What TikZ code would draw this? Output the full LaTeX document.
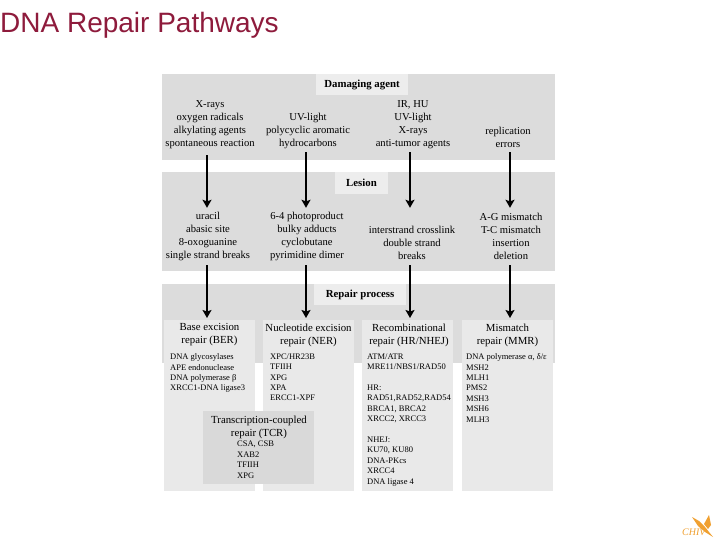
\documentclass[tikz,border=0pt]{standalone}
\usepackage{fontspec}
\setmainfont{Liberation Serif}
\newfontfamily\titlefont{Liberation Sans}
\usetikzlibrary{arrows.meta}
\definecolor{bandgray}{HTML}{DCDCDC}
\definecolor{colgray}{HTML}{E9E9E9}
\definecolor{tcrgray}{HTML}{D9D9D9}
\definecolor{headgray}{HTML}{EDEDED}
\definecolor{titlered}{HTML}{8E1B3C}
\definecolor{logoorange}{HTML}{F0A030}
\tikzset{
  x=1pt,y=-1pt,
  band/.style={fill=bandgray,draw=none},
  areabox/.style={fill=#1,draw=none,inner sep=0pt,anchor=north west},
  head/.style={fill=headgray,inner sep=0pt,font=\fontsize{10.8}{12}\selectfont\bfseries},
  cell/.style={align=center,inner sep=0pt,font=\fontsize{10.6}{13}\selectfont},
  coltitle/.style={align=center,inner sep=0pt,font=\fontsize{10.8}{13}\selectfont},
  plist/.style={align=left,inner sep=0pt,anchor=north west,font=\fontsize{8.5}{10.4}\selectfont},
  flow/.style={-{Stealth[length=8pt,width=9pt,inset=1.5pt]},line width=1.3pt,black},
}
\begin{document}
\begin{tikzpicture}
\useasboundingbox (0,0) rectangle (720,540);
\fill[white] (0,0) rectangle (720,540);
\node[anchor=west,inner sep=0pt,text=titlered,font=\titlefont\fontsize{28}{30}\selectfont] (title) at (0,25) {DNA Repair Pathways};
% bands
\fill[band] (162,74) rectangle (555,160);
\fill[band] (162,172) rectangle (555,271);
\fill[band] (162,284) rectangle (555,363);
% headers
\node[head,minimum width=92pt,minimum height=21pt] (h1) at (362,84.5) {Damaging agent};
\node[head,minimum width=53pt,minimum height=22pt] (h2) at (361.5,183) {Lesion};
\node[head,minimum width=92pt,minimum height=21pt] (h3) at (360,294.5) {Repair process};
% repair columns
\node[areabox=colgray,minimum width=91pt,minimum height=171pt] (b1) at (164,320) {};
\node[areabox=colgray,minimum width=91pt,minimum height=171pt] (b2) at (263,320) {};
\node[areabox=colgray,minimum width=91pt,minimum height=171pt] (b3) at (362,320) {};
\node[areabox=colgray,minimum width=91pt,minimum height=171pt] (b4) at (462,320) {};
\node[areabox=tcrgray,minimum width=111pt,minimum height=73pt] (b5) at (203,411) {};
% agents
\node[cell,minimum height=61pt] (a1) at (210,124.5) {X-rays\\oxygen radicals\\alkylating agents\\spontaneous reaction};
\node[cell,minimum height=42pt] (a2) at (308,131) {UV-light\\polycyclic aromatic\\hydrocarbons};
\node[cell,minimum height=55pt] (a3) at (413,124.5) {IR, HU\\UV-light\\X-rays\\anti-tumor agents};
\node[cell,minimum height=29pt] (a4) at (508,137.5) {replication\\errors};
% lesions
\node[cell,minimum height=60pt] (l1) at (208,236.5) {uracil\\abasic site\\8-oxoguanine\\single strand breaks};
\node[cell,minimum height=60pt] (l2) at (307,236.5) {6-4 photoproduct\\bulky adducts\\cyclobutane\\pyrimidine dimer};
\node[cell,minimum height=60pt] (l3) at (412,243) {interstrand crosslink\\double strand\\breaks};
\node[cell,minimum height=60pt] (l4) at (511,236.5) {A-G mismatch\\T-C mismatch\\insertion\\deletion};
% arrows
\draw[flow] ([xshift=-3pt]a1.south) -- ([xshift=-3pt,yshift=-1.5pt]a1.south |- l1.north);
\draw[flow] ([xshift=-2pt]a2.south) -- ([xshift=-2pt,yshift=-1.5pt]a2.south |- l2.north);
\draw[flow] ([xshift=-3pt]a3.south) -- ([xshift=-3pt,yshift=5pt]a3.south |- l3.north);
\draw[flow] ([xshift=2pt]a4.south) -- ([xshift=2pt,yshift=-1.5pt]a4.south |- l4.north);
\draw[flow,shorten >=2pt] ([xshift=-1pt,yshift=1.5pt]l1.south) -- ([xshift=-1pt]l1.south |- b1.north);
\draw[flow,shorten >=2pt] ([xshift=-1pt,yshift=1.5pt]l2.south) -- ([xshift=-1pt]l2.south |- b2.north);
\draw[flow,shorten >=2pt] ([xshift=-2pt,yshift=8pt]l3.south) -- ([xshift=-2pt]l3.south |- b3.north);
\draw[flow,shorten >=2pt] ([xshift=-1pt,yshift=1.5pt]l4.south) -- ([xshift=-1pt]l4.south |- b4.north);
% column titles
\node[coltitle] (t1) at (209.5,335) {Base excision\\repair (BER)};
\node[coltitle] (t2) at (308.5,335) {Nucleotide excision\\repair (NER)};
\node[coltitle] (t3) at (409,335) {Recombinational\\repair (HR/NHEJ)};
\node[coltitle] (t4) at (507.5,335) {Mismatch\\repair (MMR)};
\node[coltitle] (t5) at (259,427) {Transcription-coupled\\repair (TCR)};
% protein lists
\node[plist] (p1) at (170,353.5) {DNA glycosylases\\APE endonuclease\\DNA polymerase β\\XRCC1-DNA ligase3};
\node[plist] (p2) at (270,353.5) {XPC/HR23B\\TFIIH\\XPG\\XPA\\ERCC1-XPF};
\node[plist] (p3) at (367,353.5) {ATM/ATR\\MRE11/NBS1/RAD50\\[10.4pt]HR:\\RAD51,RAD52,RAD54\\BRCA1, BRCA2\\XRCC2, XRCC3\\[10.4pt]NHEJ:\\KU70, KU80\\DNA-PKcs\\XRCC4\\DNA ligase 4};
\node[plist] (p4) at (466,353.5) {DNA polymerase α, δ/ε\\MSH2\\MLH1\\PMS2\\MSH3\\MSH6\\MLH3};
\node[plist] (p5) at (237,441) {CSA, CSB\\XAB2\\TFIIH\\XPG};
% logo
\fill[logoorange] (692,517) -- (699,521) -- (705,527) -- (713,537) -- (705,532) -- (698,526) -- cycle;
\fill[logoorange] (704,524) -- (709,515) -- (711,525) -- (708,529) -- cycle;
\node[anchor=west,inner sep=0pt,text=logoorange,font=\fontsize{10}{10}\selectfont\itshape] (logo) at (682,532) {CHIV};
\end{tikzpicture}
\end{document}
